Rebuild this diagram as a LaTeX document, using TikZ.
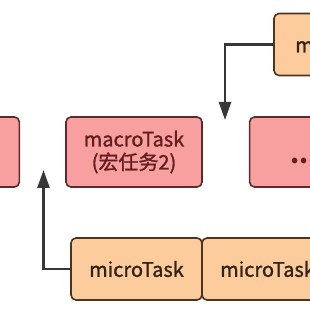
\documentclass[tikz,border=0pt]{standalone}
\usepackage{fontspec}
\setmainfont{Noto Sans CJK SC}
\newfontfamily\taskfont[BoldFont={Noto Sans CJK SC}, BoldFeatures={FakeBold=1.3}]{Noto Sans CJK SC}
\usetikzlibrary{arrows.meta,positioning}
\definecolor{macrofill}{RGB}{248,160,160}
\definecolor{macroline}{RGB}{92,42,42}
\definecolor{macrotext}{RGB}{100,30,30}
\definecolor{microfill}{RGB}{252,204,156}
\definecolor{microline}{RGB}{78,52,30}
\definecolor{microtext}{RGB}{50,35,25}
\definecolor{arrowgray}{RGB}{55,55,55}
\tikzset{
    macrobox/.style={draw=macroline, fill=macrofill, rounded corners=5pt, line width=1.6pt,
        align=center, text=macrotext, font=\taskfont\bfseries\fontsize{20}{23}\selectfont,
        minimum width=136pt, minimum height=70pt},
    microbox/.style={draw=microline, fill=microfill, rounded corners=5pt, line width=1.6pt,
        align=center, text=microtext, font=\taskfont\bfseries\fontsize{20}{23}\selectfont,
        minimum width=131pt, minimum height=62pt, outer sep=0pt},
    taskarrow/.style={-{Triangle[length=18pt, width=12pt]}, line width=2.5pt, draw=arrowgray}
}

\begin{document}
\begin{tikzpicture}[x=1pt, y=1pt, node distance=45pt]
\useasboundingbox (0,0) rectangle (310,310);
\clip (0,0) rectangle (310,310);
\node[macrobox] (macroB) at (134,158) {macroTask\\(宏任务2)};
\node[macrobox, left=of macroB] (macroA) {};
\node[macrobox, right=46pt of macroB] (macroC) {\mbox{}\\{\normalfont\bfseries\fontsize{26}{23}\selectfont ......}};
\node[microbox] (microA) at (136.5,41) {microTask};
\node[microbox, right=0pt of microA] (microB) {microTask};
\node[microbox] (microTop) at (339.5,265.5) {\hspace*{6pt}microTask};
\coordinate (dropC) at (225,190);
\coordinate (riseB) at (43.5,140);
\draw[taskarrow] (microTop.west) -| (dropC);
\draw[taskarrow] (microA.west) -| (riseB);
\end{tikzpicture}
\end{document}
